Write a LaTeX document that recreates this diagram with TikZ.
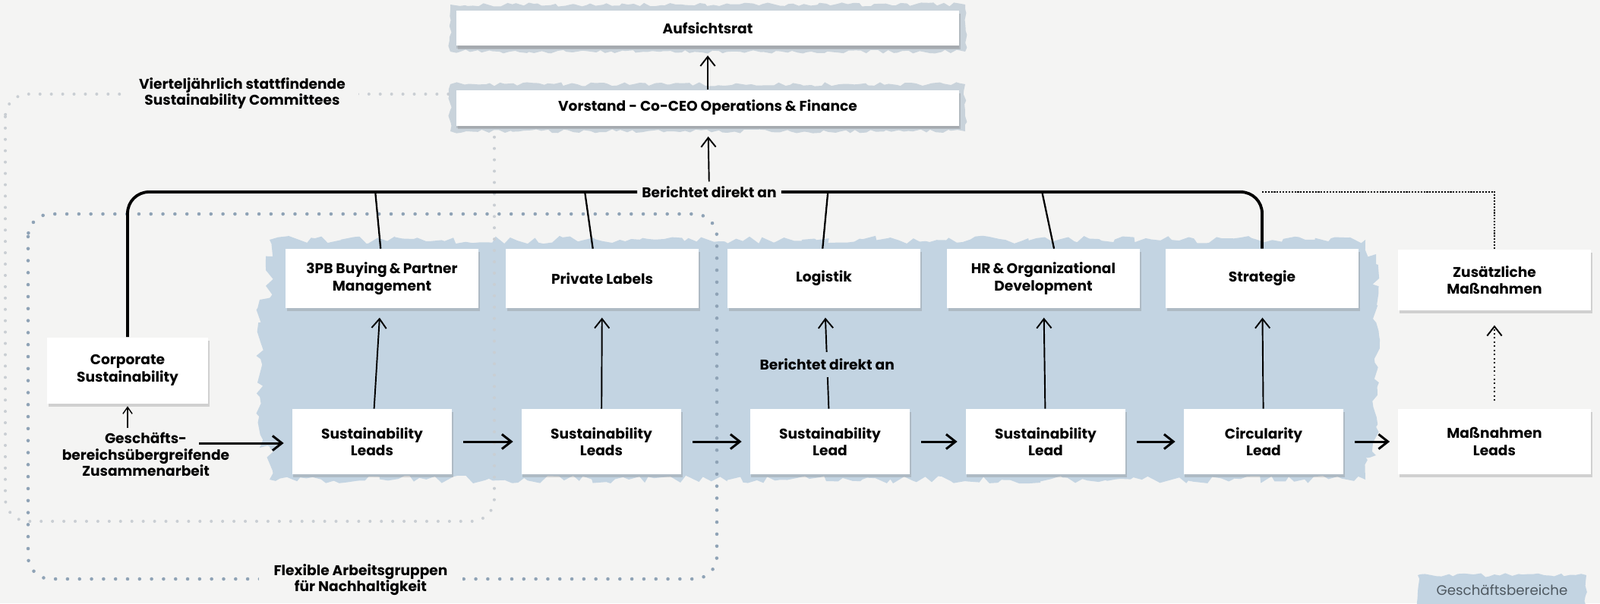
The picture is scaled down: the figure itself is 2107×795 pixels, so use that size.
\documentclass[tikz,border=0pt]{standalone}
\usepackage{fontspec}
\setmainfont{Poppins}
\usetikzlibrary{arrows.meta,shadows,decorations.pathmorphing}

\definecolor{paper}{HTML}{F4F4F3}
\definecolor{brushblue}{HTML}{C3D4E2}
\definecolor{boardshade}{HTML}{C9D3DB}
\definecolor{dotblue}{HTML}{8FA3B6}
\definecolor{dotgray}{HTML}{C9CED3}
\definecolor{legendgray}{HTML}{4F5961}

\tikzset{
  unitbox/.style={fill=white,align=center,font=\bfseries\fontsize{10.6}{12.8}\selectfont,
    minimum width=5.08cm,minimum height=1.56cm,
    drop shadow={shadow xshift=1pt,shadow yshift=-2.5pt,opacity=.3}},
  leadbox/.style={unitbox,minimum width=4.22cm,minimum height=1.72cm},
  boardbox/.style={unitbox,minimum width=13.24cm,minimum height=0.94cm,drop shadow={shadow xshift=0pt,shadow yshift=-2pt,opacity=.25}},
  label/.style={align=center,font=\bfseries\fontsize{10.6}{12.2}\selectfont},
  arr/.style={-{Straight Barb[length=7pt,width=11pt]},line width=1.1pt},
  flow/.style={arr,line width=1.7pt,shorten <=8pt,shorten >=6pt},
  bracket/.style={line width=2.2pt,rounded corners=16pt},
  drop/.style={line width=1.3pt},
  ragged/.style={decorate,decoration={random steps,segment length=4pt,amplitude=1.5pt}},
  rough/.style={decorate,decoration={random steps,segment length=5pt,amplitude=3pt}},
  committee/.style={dotgray,line width=2.3pt,line cap=round,dash pattern=on 0pt off 8.5pt,rounded corners=17pt},
  workgroup/.style={dotblue,line width=2.6pt,line cap=round,dash pattern=on 0pt off 9pt,rounded corners=17pt}
}

\begin{document}
\begin{tikzpicture}[x=0.02cm,y=-0.02cm]
\useasboundingbox (0,0) rectangle (2107,795);
\fill[paper] (0,0) rectangle (2107,795);

% brush backgrounds
\fill[brushblue,rough] (355,316) rectangle (1798,632);
\fill[brushblue,rough] (342,395) rectangle (380,590);
\fill[brushblue,rough] (1785,335) rectangle (1812,600);
\fill[boardshade,ragged] (593,6) rectangle (1271,68);
\fill[boardshade,ragged] (593,111) rectangle (1271,173);
\fill[brushblue,ragged] (1867,758) rectangle (2089,800);

% frames
\draw[committee] (7,124) rectangle (651,687);
\draw[workgroup] (37,282) rectangle (944,763);

\node[label,fill=paper,inner xsep=10pt] (quarterly) at (319,123) {Vierteljährlich stattfindende\\Sustainability Committees};
\node[label,fill=paper,inner xsep=11pt] (flexible) at (475,764) {Flexible Arbeitsgruppen\\für Nachhaltigkeit};

% board
\node[boardbox] (aufsicht) at (932,37) {Aufsichtsrat};
\node[boardbox] (vorstand) at (932,142) {Vorstand - Co-CEO Operations \& Finance};
\node[label] (bericht) at (934,253) {Berichtet direkt an};

% business units
\foreach \n/\x/\t in {pb/503/{3PB Buying\,\&\,Partner\\Management},pl/793/{Private Labels},log/1085/{Logistik},hr/1374/{HR\,\&\,Organizational\\Development},strat/1662/{Strategie}}
  \node[unitbox] (\n) at (\x,367) {\t};
\node[unitbox,minimum height=1.6cm] (zus) at (1968,369) {Zusätzliche\\Maßnahmen};

% leads
\node[unitbox,minimum width=4.24cm,minimum height=1.74cm] (corp) at (168,488) {Corporate\\Sustainability};
\foreach \n/\x/\t in {sl1/490/{Sustainability\\Leads},sl2/792/{Sustainability\\Leads},sl3/1093/{Sustainability\\Lead},sl4/1377/{Sustainability\\Lead},circ/1664/{Circularity\\Lead}}
  \node[leadbox] (\n) at (\x,582) {\t};
\node[unitbox,minimum height=1.72cm] (mass) at (1968,582) {Maßnahmen\\Leads};

\node[label] (geschaeft) at (192,599) {Geschäfts-\\bereichsübergreifende\\Zusammenarbeit};
\node[font=\fontsize{10.4}{12}\selectfont,text=legendgray] (legend) at (1978,778) {Geschäftsbereiche};

% reporting lines
\draw[arr,shorten >=7pt] (vorstand) -- (aufsicht);
\draw[arr,shorten >=8pt] (bericht) -- (vorstand);
\draw[bracket] (bericht.west) -| (corp.north);
\draw[bracket] (bericht.east) -| (strat.north);
\foreach \n/\dt/\db in {pb/-5pt/-1pt,pl/-13pt/-7pt,log/3pt/-1pt,hr/-1pt/8pt}
  \draw[drop] ([xshift=\dt]\n.north |- bericht) -- ([xshift=\db]\n.north);
\draw[line width=1.2pt,densely dotted] (strat.north |- bericht.east) -| (zus.north);

% leads to units
\foreach \a/\b in {sl1/pb,sl2/pl,sl4/hr,circ/strat}
  \draw[arr,shorten >=7pt] (\a) -- (\b);
\draw[arr,shorten >=7pt] (sl3) -- node[label,fill=brushblue,pos=.44,inner ysep=5pt] (bericht2) {Berichtet direkt an} (log);
\draw[arr,dotted,shorten <=6pt,shorten >=11pt] (mass) -- (zus);

% flow between leads
\foreach \a/\b in {sl1/sl2,sl2/sl3,sl3/sl4,sl4/circ,circ/mass}
  \draw[flow] (\a) -- (\b);
\coordinate (gstart) at (262,584);
\draw[flow,shorten <=0pt] (gstart) -- (sl1.west |- gstart);
\draw[arr,line width=.8pt,-{Straight Barb[length=5pt,width=7pt]},shorten >=2pt] (geschaeft.north -| corp.south) -- (corp.south);

\end{tikzpicture}
\end{document}
